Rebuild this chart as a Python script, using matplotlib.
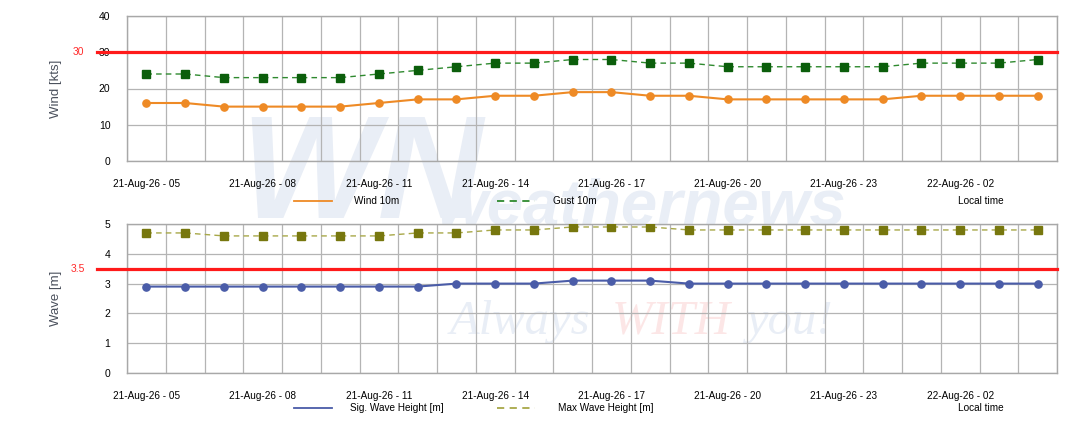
import matplotlib
matplotlib.use("Agg")
import matplotlib.pyplot as plt
from matplotlib.lines import Line2D
import matplotlib.transforms as mtransforms
import numpy as np

plt.rcParams['font.family'] = ['Liberation Sans', 'DejaVu Sans']

# --- data (24 hourly steps, local time) ---
hours = ["05", "06", "07", "08", "09", "10", "11", "12", "13", "14", "15", "16",
         "17", "18", "19", "20", "21", "22", "23", "00", "01", "02", "03", "04"]
days = ["21-Aug-26"] * 19 + ["22-Aug-26"] * 5
time_labels = [f"{d} - {h}" for d, h in zip(days, hours)]

wind_10m = [16, 16, 15, 15, 15, 15, 16, 17, 17, 18, 18, 19,
            19, 18, 18, 17, 17, 17, 17, 17, 18, 18, 18, 18]
gust_10m = [24, 24, 23, 23, 23, 23, 24, 25, 26, 27, 27, 28,
            28, 27, 27, 26, 26, 26, 26, 26, 27, 27, 27, 28]
sig_wave = [2.9, 2.9, 2.9, 2.9, 2.9, 2.9, 2.9, 2.9, 3.0, 3.0, 3.0, 3.1,
            3.1, 3.1, 3.0, 3.0, 3.0, 3.0, 3.0, 3.0, 3.0, 3.0, 3.0, 3.0]
max_wave = [4.7, 4.7, 4.6, 4.6, 4.6, 4.6, 4.6, 4.7, 4.7, 4.8, 4.8, 4.9,
            4.9, 4.9, 4.8, 4.8, 4.8, 4.8, 4.8, 4.8, 4.8, 4.8, 4.8, 4.8]

wind_limit = 30
wave_limit = 3.5

W, H = 1084, 430
fig = plt.figure(figsize=(W / 100, H / 100), dpi=100)

GRID = '#b4b4b4'
LABEL_COL = '#4a505c'
WM_BLUE = '#e9eef6'


def fig_box(left, top, right, bottom):
    return [left / W, 1 - bottom / H, (right - left) / W, (bottom - top) / H]


def setup_panel(ax, ymax, ystep, ylabel, limit, limit_text):
    x = np.arange(len(time_labels))
    ax.set_xlim(-0.5, len(time_labels) - 0.5)
    ax.set_ylim(0, ymax)
    ax.set_yticks(np.arange(0, ymax + 0.001, ystep))
    ax.set_xticks(x[::3])
    ax.set_xticklabels(time_labels[::3], fontsize=7.2)
    ax.set_xticks(np.arange(-0.5, len(time_labels), 1), minor=True)
    ax.tick_params(axis='both', which='both', length=0)
    ax.tick_params(axis='x', pad=13)
    ax.tick_params(axis='y', pad=12, labelsize=7.5)
    ax.grid(which='minor', axis='x', color=GRID, lw=0.9)
    ax.grid(which='major', axis='y', color=GRID, lw=0.9)
    ax.set_axisbelow(True)
    for s in ax.spines.values():
        s.set_color('#a8a8a8')
        s.set_linewidth(1.0)
    ax.set_ylabel(ylabel, fontsize=9.5, color=LABEL_COL)
    ax.yaxis.set_label_coords(-0.07, 0.5)
    # threshold line runs out past the axis into the label area
    trans = mtransforms.blended_transform_factory(ax.transAxes, ax.transData)
    ax.plot([-30 / 930, 1], [limit, limit], color='#ff1a1a', lw=2.3,
            transform=trans, clip_on=False, zorder=5)
    ax.text(-49 / 930, limit, limit_text, color='#ff2a2a', fontsize=7.5,
            ha='center', va='center', transform=trans)
    return x


def legend_row(y, items):
    for (x0, x1, tx, label, color, ls) in items:
        fig.add_artist(Line2D([x0 / W, x1 / W], [1 - y / H, 1 - y / H],
                              color=color, lw=1.3, ls=ls))
        fig.text(tx / W, 1 - y / H, label, fontsize=7.2, va='center', ha='left')
    fig.text(958 / W, 1 - y / H, "Local time", fontsize=7.2, va='center', ha='left')


# watermark (behind everything)
fig.text(240 / W, 1 - 180 / H, "WN", fontsize=105, fontweight='bold', style='italic',
         color=WM_BLUE, ha='left', va='center', zorder=-10)
fig.text(642 / W, 1 - 207 / H, "weathernews", fontsize=47, fontweight='bold',
         style='italic', color=WM_BLUE, ha='center', va='center', zorder=-10)
fig.text(450 / W, 1 - 322 / H, "Always", fontsize=35, family='Liberation Serif',
         style='italic', color=WM_BLUE, ha='left', va='center', zorder=-10)
fig.text(612 / W, 1 - 322 / H, "WITH", fontsize=35, family='Liberation Serif',
         style='italic', color='#fce6e6', ha='left', va='center', zorder=-10)
fig.text(746 / W, 1 - 322 / H, "you!", fontsize=35, family='Liberation Serif',
         style='italic', color=WM_BLUE, ha='left', va='center', zorder=-10)

# --- wind panel ---
ax1 = fig.add_axes(fig_box(127, 16, 1057, 161))
ax1.patch.set_alpha(0)
x = setup_panel(ax1, 40, 10, "Wind [kts]", wind_limit, "30")
ax1.plot(x, wind_10m, color='#ee8a25', lw=1.5, marker='o', ms=5.2, zorder=4)
ax1.plot(x, gust_10m, color='#2f8a2f', lw=1.0, ls=(0, (4, 3)), marker='s', ms=5.2,
         mfc='#0b5e0b', mec='#0b5e0b', zorder=4)
legend_row(201, [(294, 332, 354, "Wind 10m", '#ee8a25', '-'),
                 (497, 535, 553, "Gust 10m", '#2f8a2f', (0, (4, 3)))])

# --- wave panel ---
ax2 = fig.add_axes(fig_box(127, 224, 1057, 373))
ax2.patch.set_alpha(0)
x = setup_panel(ax2, 5, 1, "Wave [m]", wave_limit, "3.5")
ax2.plot(x, sig_wave, color='#4a5ca8', lw=1.5, marker='o', ms=5.2, zorder=4)
ax2.plot(x, max_wave, color='#a8a848', lw=1.0, ls=(0, (4, 3)), marker='s', ms=5.2,
         mfc='#77770e', mec='#77770e', zorder=4)
legend_row(408, [(294, 332, 350, "Sig. Wave Height [m]", '#4a5ca8', '-'),
                 (497, 535, 558, "Max Wave Height [m]", '#a8a848', (0, (4, 3)))])

fig.savefig("out.png", dpi=100)
